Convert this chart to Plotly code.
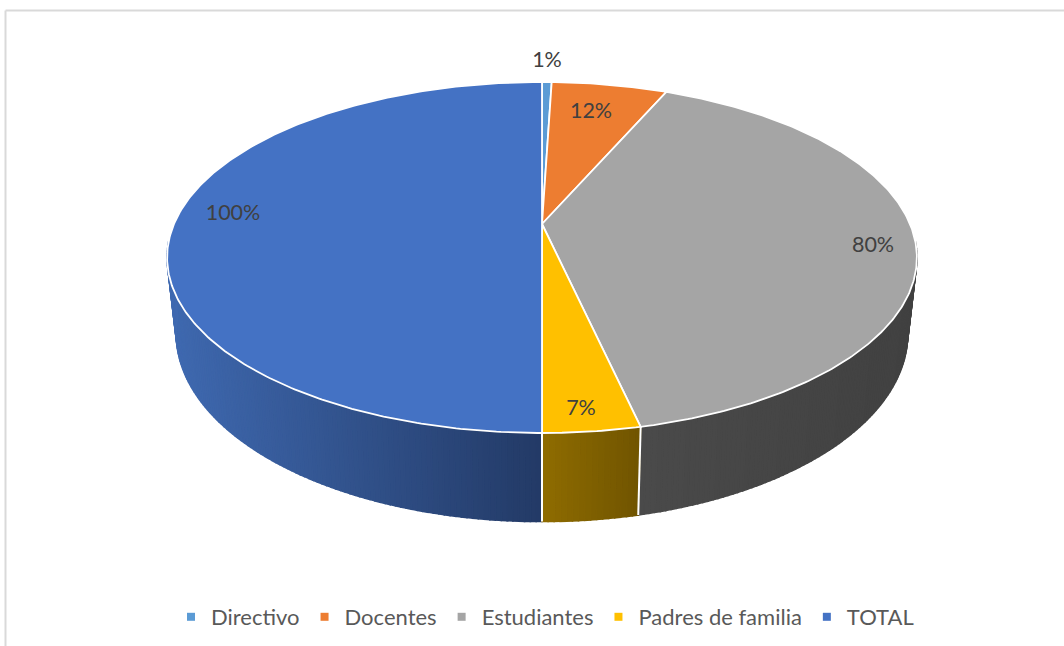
import numpy as np
import plotly.graph_objects as go

categories = ["Directivo", "Docentes", "Estudiantes", "Padres de familia", "TOTAL"]
values = [1, 12, 80, 7, 100]
labels = ["1%", "12%", "80%", "7%", "100%"]
colors = ["#5B9BD5", "#ED7D31", "#A5A5A5", "#FFC000", "#4472C4"]
# side shade of each visible wall: colour at its left and right end
side_left = {2: "#4A4A4A", 3: "#8F6C00", 4: "#3F69B0"}
side_right = {2: "#414141", 3: "#705400", 4: "#233A66"}
label_pos = [(547, 62), (591, 113), (873, 247), (581, 410), (233, 215)]

W, H = 1064, 646
CX = 542
TILT = 0.1909
TOP = dict(d=368.0, b=224.0, a=126.35)
BOT = dict(d=359.0, b=298.0, a=124.0)
# the wall only shows on the front part of the disc
WALL_FROM, WALL_TO = np.pi / 2 + 0.1, 3 * np.pi / 2 - 0.1


def project(t, plane):
    u, v = np.sin(t), np.cos(t)
    den = 1 + TILT * v
    return CX + plane["d"] * u / den, (plane["b"] - plane["a"] * v) / den


def rgb(h):
    return np.array([int(h[i:i + 2], 16) for i in (1, 3, 5)], float)


fracs = np.cumsum([0] + values) / sum(values) * 2 * np.pi
fig = go.Figure()

# side wall
for i in [4, 2, 3]:
    t0, t1 = max(fracs[i], WALL_FROM), min(fracs[i + 1], WALL_TO)
    step = np.radians(0.75)
    n = max(2, int((t1 - t0) / step))
    edges = np.linspace(t0, t1, n + 1)
    xs_all = project(edges, BOT)[0]
    lo, hi = xs_all.min(), xs_all.max()
    cl, cr = rgb(side_left[i]), rgb(side_right[i])
    for a, b in zip(edges[:-1], edges[1:]):
        sub = np.array([a, b])
        tx, ty = project(sub, TOP)
        bx, by = project(sub[::-1], BOT)
        mid = (project((a + b) / 2, BOT)[0] - lo) / (hi - lo)
        c = cl + (cr - cl) * mid
        col = f"rgb({c[0]:.0f},{c[1]:.0f},{c[2]:.0f})"
        fig.add_trace(go.Scatter(
            x=np.r_[tx, bx, tx[0]], y=np.r_[ty, by, ty[0]], mode="lines", fill="toself",
            fillcolor=col, line=dict(color=col, width=1.6), hoverinfo="skip", showlegend=False))

# white seams on the wall
for t in [fracs[3], fracs[4]]:
    tx, ty = project(t, TOP)
    bx, by = project(t, BOT)
    fig.add_trace(go.Scatter(x=[tx, bx], y=[ty, by], mode="lines",
                             line=dict(color="white", width=2), hoverinfo="skip", showlegend=False))

# top face
for i, cat in enumerate(categories):
    ts = np.linspace(fracs[i], fracs[i + 1], max(3, int((fracs[i + 1] - fracs[i]) / 0.01)))
    px, py = project(ts, TOP)
    fig.add_trace(go.Scatter(
        x=np.r_[CX, px, CX], y=np.r_[TOP["b"], py, TOP["b"]], mode="lines", fill="toself",
        fillcolor=colors[i], line=dict(color="white", width=1.8), hoverinfo="skip", showlegend=False))

# data labels
fig.add_trace(go.Scatter(
    x=[p[0] for p in label_pos], y=[p[1] for p in label_pos], mode="text", text=labels,
    textfont=dict(family="Lato", size=21.5, color="#404040"), textposition="middle center",
    hoverinfo="skip", showlegend=False))

# legend entries
for cat, col in zip(categories, colors):
    fig.add_trace(go.Scatter(x=[None], y=[None], mode="markers", name=cat,
                             marker=dict(symbol="square", size=8, color=col)))

frame = dict(color="#D9D9D9", width=2)
fig.update_layout(
    width=W, height=H, margin=dict(l=0, r=0, t=0, b=0),
    paper_bgcolor="white", plot_bgcolor="white", showlegend=True,
    xaxis=dict(range=[0, W], visible=False, fixedrange=True),
    yaxis=dict(range=[H, 0], visible=False, fixedrange=True),
    legend=dict(orientation="h", x=545 / W, xanchor="center", y=1 - 617 / H, yanchor="middle",
                font=dict(family="Lato", size=22, color="#595959"),
                itemwidth=30, bgcolor="rgba(0,0,0,0)"),
    shapes=[
        dict(type="line", x0=5.5, x1=W, y0=10.5, y1=10.5, xref="x", yref="y", line=frame),
        dict(type="line", x0=5.5, x1=5.5, y0=10.5, y1=H, xref="x", yref="y", line=frame),
    ],
)
fig.write_html("out.html", config=dict(displayModeBar=False), default_width="1064px", default_height="646px",
               post_script="document.body.style.margin='0';document.body.style.overflow='hidden';")
